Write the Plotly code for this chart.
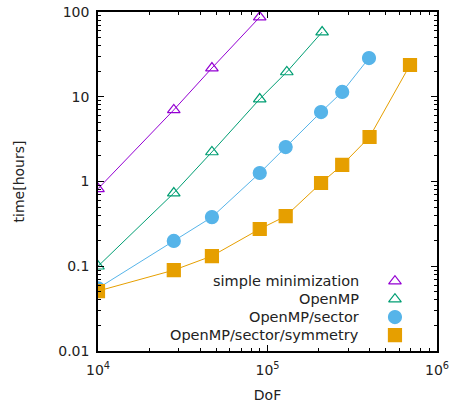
import plotly.graph_objects as go

# Data
names = ["simple minimization", "OpenMP", "OpenMP/sector", "OpenMP/sector/symmetry"]
dof_simple = [10000, 28000, 47000, 90000]
time_simple = [0.82, 7.0, 21.8, 87]
dof_openmp = [10000, 28000, 47000, 90000, 130000, 210000]
time_openmp = [0.10, 0.73, 2.23, 9.4, 19.6, 58]
dof_sector = [10000, 28000, 47000, 90000, 128000, 207000, 276000, 397000]
time_sector = [0.055, 0.199, 0.38, 1.26, 2.55, 6.6, 11.4, 28.6]
dof_sym = [10000, 28000, 47000, 90000, 128000, 207000, 276000, 400000, 693000]
time_sym = [0.051, 0.090, 0.132, 0.275, 0.39, 0.96, 1.57, 3.35, 23.7]

x_tickvals = [1e4, 1e5, 1e6]
x_ticktext = ["10<sup>4</sup>", "10<sup>5</sup>", "10<sup>6</sup>"]
y_tickvals = [0.01, 0.1, 1, 10, 100]
y_ticktext = ["0.01", "0.1", "1", "10", "100"]
x_minor = [m * 10 ** e for e in (4, 5) for m in range(2, 10)]
y_minor = [m * 10.0 ** e for e in (-2, -1, 0, 1) for m in range(2, 10)]

colors = ["#9400d3", "#009e73", "#56b4e9", "#e69f00"]
symbols = ["triangle-up-open", "triangle-up-open", "circle", "square"]
sizes = [11, 11, 13, 13]
series = [(dof_simple, time_simple), (dof_openmp, time_openmp),
          (dof_sector, time_sector), (dof_sym, time_sym)]

FONT = "DejaVu Sans"
TXT = "#222"

fig = go.Figure()
for (xs, ys), c, s, sz, n in zip(series, colors, symbols, sizes, names):
    fig.add_trace(go.Scatter(
        x=xs, y=ys, mode="lines+markers", name=n,
        line=dict(color=c, width=1),
        marker=dict(symbol=s, size=sz, color=c, line=dict(color=c, width=1.2)),
        showlegend=False,
    ))

# invisible trace to activate minor-tick overlay axes
fig.add_trace(go.Scatter(x=[1e5], y=[1], xaxis="x3", yaxis="y3", mode="markers",
                         marker=dict(opacity=0), showlegend=False, hoverinfo="skip"))

# custom legend (text left, marker right) on an overlay axis
leg_y = [0.206, 0.153, 0.100, 0.047]
for i, (c, s, sz, n) in enumerate(zip(colors, symbols, sizes, names)):
    fig.add_trace(go.Scatter(
        x=[0.876], y=[leg_y[i]], mode="markers", xaxis="x2", yaxis="y2",
        marker=dict(symbol=s, size=sz, color=c, line=dict(color=c, width=1.2)),
        showlegend=False, hoverinfo="skip",
    ))
    fig.add_annotation(x=0.775, y=leg_y[i], xref="x2", yref="y2", text=n,
                       showarrow=False, xanchor="right", yanchor="middle",
                       font=dict(family=FONT, size=14.5, color=TXT))

axis_common = dict(
    type="log", showline=True, linecolor="black", linewidth=1.5,
    mirror="ticks", ticks="inside", ticklen=6, tickcolor="black", tickwidth=1,
    showgrid=False, zeroline=False, automargin=False, ticklabeloverflow="allow",
    tickfont=dict(family=FONT, size=14, color=TXT),
)

fig.update_layout(
    width=449, height=409,
    margin=dict(l=98, r=12, t=12, b=58),
    paper_bgcolor="white", plot_bgcolor="white",
    xaxis=dict(axis_common, range=[4, 6], tickvals=x_tickvals, ticktext=x_ticktext,
               ticklabelstandoff=5,
               title=dict(text="DoF", font=dict(family=FONT, size=14, color=TXT),
                          standoff=14)),
    yaxis=dict(axis_common, range=[-2, 2], tickvals=y_tickvals, ticktext=y_ticktext,
               ticklabelstandoff=4,
               title=dict(text="time[hours]", font=dict(family=FONT, size=14, color=TXT),
                          standoff=30)),
    xaxis2=dict(overlaying="x", range=[0, 1], visible=False, fixedrange=True,
                automargin=False),
    yaxis2=dict(overlaying="y", range=[0, 1], visible=False, fixedrange=True,
                automargin=False),
    xaxis3=dict(overlaying="x", type="log", range=[4, 6], tickvals=x_minor,
                showticklabels=False, ticks="inside", ticklen=3, automargin=False,
                tickcolor="black", mirror="ticks", showline=False, showgrid=False,
                zeroline=False, side="bottom", anchor="y3"),
    yaxis3=dict(overlaying="y", type="log", range=[-2, 2], tickvals=y_minor,
                showticklabels=False, ticks="inside", ticklen=3, automargin=False,
                tickcolor="black", mirror="ticks", showline=False, showgrid=False,
                zeroline=False, side="left", anchor="x3"),
    showlegend=False,
)

fig.write_html("out.html")
